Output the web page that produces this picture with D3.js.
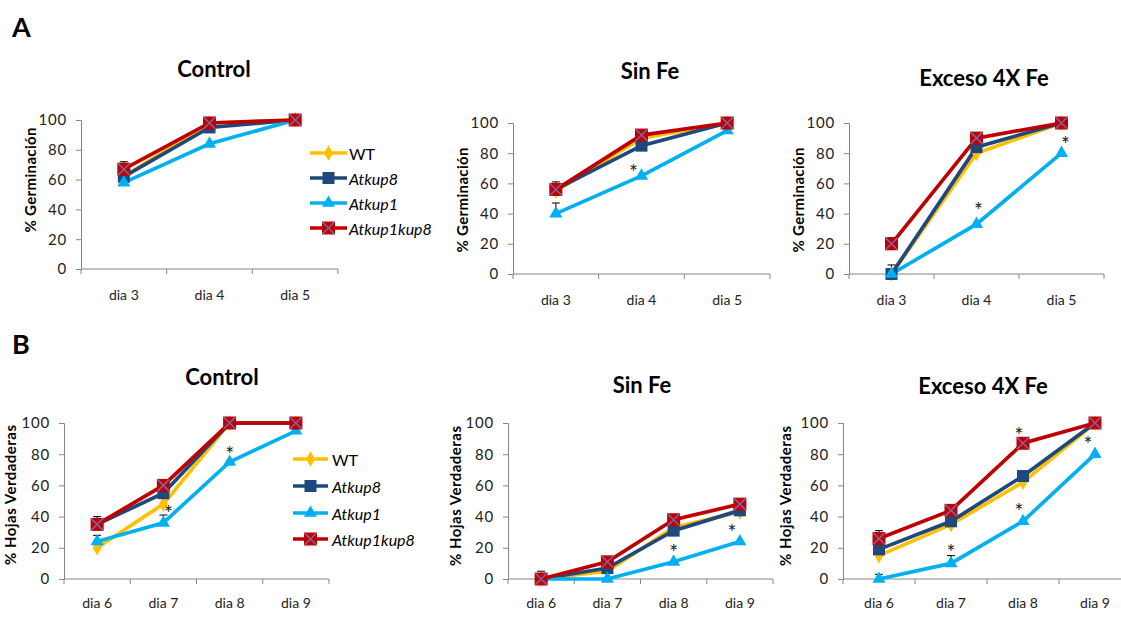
<!DOCTYPE html>
<html><head><meta charset="utf-8">
<script src="https://cdn.jsdelivr.net/npm/d3@7"></script>
<style>body{margin:0;background:#fff}svg{display:block}text{font-family:Lato,"Open Sans",sans-serif}</style>
</head><body>
<svg id="c" width="1121" height="617"></svg>
<script>
// ---------- data ----------
const seriesNames = ["WT", "Atkup8", "Atkup1", "Atkup1kup8"];
const seriesColors = ["#FFC000", "#1F497D", "#00B0F0", "#C00000"];
const germDays = ["dia 3", "dia 4", "dia 5"];
const leafDays = ["dia 6", "dia 7", "dia 8", "dia 9"];
const yTicks = [0, 20, 40, 60, 80, 100];

// rows = series (WT, Atkup8, Atkup1, Atkup1kup8), columns = days
const germControl = [[62, 98, 100], [62, 95, 100], [58, 84, 100], [67, 98, 100]];
const germSinFe   = [[55, 90, 100], [56, 85, 100], [40, 65, 95], [56, 92, 100]];
const germExceso  = [[0, 80, 100], [0, 84, 100], [0, 33, 80], [20, 90, 100]];
const leafControl = [[20, 48, 100, 100], [35, 55, 100, 100], [24, 36, 75, 95], [35, 60, 100, 100]];
const leafSinFe   = [[0, 5, 33, 43], [0, 7, 31, 44], [0, 0, 11, 24], [0, 11, 38, 48]];
const leafExceso  = [[15, 35, 62, 100], [19, 37, 66, 100], [0, 10, 37, 80], [26, 44, 87, 100]];

// positive error bars: [series, day, error]
const errGermControl = [[3, 0, 5], [0, 0, 4]];
const errGermSinFe   = [[2, 0, 7], [3, 0, 5]];
const errGermExceso  = [[1, 0, 6], [3, 0, 4]];
const errLeafControl = [[3, 0, 5], [2, 0, 4], [2, 1, 5]];
const errLeafSinFe   = [[3, 0, 5]];
const errLeafExceso  = [[3, 0, 5], [2, 0, 3], [2, 1, 5]];

// significance asterisks: [day, value, dx]
const starGermControl = [];
const starGermSinFe   = [[1, 70, -8]];
const starGermExceso  = [[1, 45, 2], [2, 89, 4]];
const starLeafControl = [[1, 45, 5], [2, 83, 0]];
const starLeafSinFe   = [[2, 20, 0], [3, 33, -8]];
const starLeafExceso  = [[1, 20, 0], [2, 46, -4], [2, 95, -4], [3, 89, -7]];

const titles = ["Control", "Sin Fe", "Exceso 4X Fe"];
const yLabelGerm = "% Germinación";
const yLabelLeaf = "% Hojas Verdaderas";

// ---------- layout ----------
const panels = [
  {days: germDays, vals: germControl, err: errGermControl, stars: starGermControl, title: titles[0], ylab: yLabelGerm, ylen: 105,
   x0: 81, x1: 338, yT: 120, yB: 269, tx: 214, ty: 68, lx: 30, ly: 180, xl: 300,
   legend: {x0: 310, x1: 347, tx: 349, ys: [153, 178, 203, 228]}},
  {days: germDays, vals: germSinFe, err: errGermSinFe, stars: starGermSinFe, title: titles[1], ylab: yLabelGerm, ylen: 105,
   x0: 513, x1: 770, yT: 123, yB: 274, tx: 650, ty: 70, lx: 462, ly: 200, xl: 305},
  {days: germDays, vals: germExceso, err: errGermExceso, stars: starGermExceso, title: titles[2], ylab: yLabelGerm, ylen: 105,
   x0: 849, x1: 1104, yT: 123, yB: 274, tx: 984, ty: 77, lx: 798, ly: 200, xl: 305},
  {days: leafDays, vals: leafControl, err: errLeafControl, stars: starLeafControl, title: titles[0], ylab: yLabelLeaf, ylen: 140,
   x0: 64, x1: 329, yT: 423, yB: 579, tx: 222, ty: 376, lx: 10, ly: 495, xl: 608,
   legend: {x0: 293, x1: 328, tx: 332, ys: [459, 486, 513, 539]}},
  {days: leafDays, vals: leafSinFe, err: errLeafSinFe, stars: starLeafSinFe, title: titles[1], ylab: yLabelLeaf, ylen: 140,
   x0: 508, x1: 773, yT: 423, yB: 579, tx: 642, ty: 384, lx: 455, ly: 496, xl: 608},
  {days: leafDays, vals: leafExceso, err: errLeafExceso, stars: starLeafExceso, title: titles[2], ylab: yLabelLeaf, ylen: 140,
   x0: 843, x1: 1131, yT: 423, yB: 579, tx: 983, ty: 385, lx: 785, ly: 496, xl: 608}
];

const svg = d3.select("#c");
const axisCol = "#868686", textCol = "#222";

svg.append("text").attr("x", 12).attr("y", 37).attr("font-size", 27).attr("font-weight", "bold").text("A");
svg.append("text").attr("x", 12).attr("y", 354).attr("font-size", 27).attr("font-weight", "bold").text("B");

function marker(g, si, x, y) {
  const c = seriesColors[si];
  if (si === 0) {
    g.append("path").attr("d", d3.symbol(d3.symbolDiamond, 70)()).attr("transform", `translate(${x},${y})`).attr("fill", c);
  } else if (si === 1) {
    g.append("rect").attr("x", x - 6).attr("y", y - 6).attr("width", 12).attr("height", 12).attr("fill", c);
  } else if (si === 2) {
    g.append("path").attr("d", d3.symbol(d3.symbolTriangle, 75)()).attr("transform", `translate(${x},${y})`).attr("fill", c);
  } else {
    g.append("rect").attr("x", x - 6.5).attr("y", y - 6.5).attr("width", 13).attr("height", 13).attr("fill", c);
    g.append("path").attr("d", `M${x-6},${y-6}L${x+6},${y+6}M${x+6},${y-6}L${x-6},${y+6}`)
      .attr("stroke", "#8064A2").attr("stroke-width", 1.5);
  }
}

panels.forEach(p => {
  const g = svg.append("g");
  const x = d3.scaleBand().domain(p.days).range([p.x0, p.x1]);
  const y = d3.scaleLinear().domain([0, 100]).range([p.yB, p.yT]);

  // y axis
  const ya = g.append("g").attr("transform", `translate(${p.x0},0)`)
    .call(d3.axisLeft(y).tickValues(yTicks).tickSize(5).tickPadding(9));
  ya.select(".domain").attr("stroke", axisCol);
  ya.selectAll(".tick line").attr("stroke", axisCol);
  ya.selectAll(".tick text").attr("font-size", 15).attr("letter-spacing", 0.8).attr("fill", textCol).attr("font-family", "Lato");

  // x axis
  const xa = g.append("g").attr("transform", `translate(0,${p.yB})`)
    .call(d3.axisBottom(x).tickSize(0).tickFormat(() => ""));
  xa.select(".domain").attr("stroke", axisCol).attr("d", `M${p.x0},0H${p.x1}`);
  xa.selectAll(".tick").remove();
  const bounds = p.days.map(d => x(d)).concat([p.x1]);
  g.selectAll(null).data(bounds).join("line")
    .attr("x1", d => d).attr("x2", d => d).attr("y1", p.yB).attr("y2", p.yB + 5).attr("stroke", axisCol);
  g.selectAll(null).data(p.days).join("text")
    .attr("x", d => x(d) + x.bandwidth() / 2).attr("y", p.xl).attr("text-anchor", "middle")
    .attr("font-size", 14).attr("fill", textCol).text(d => d);

  // title
  g.append("text").attr("x", p.tx).attr("y", p.ty).attr("text-anchor", "middle").attr("dominant-baseline", "central")
    .attr("font-size", 22).attr("font-weight", "bold").attr("fill", "#000").text(p.title);
  // y label
  g.append("text").attr("transform", `translate(${p.lx},${p.ly}) rotate(-90)`).attr("text-anchor", "middle")
    .attr("dominant-baseline", "central").attr("font-size", 15).attr("font-weight", "bold").attr("fill", "#000")
    .attr("textLength", p.ylen).attr("lengthAdjust", "spacing").text(p.ylab);

  const cx = i => x(p.days[i]) + x.bandwidth() / 2;
  const line = d3.line().x((d, i) => cx(i)).y(d => y(d));

  p.vals.forEach((vals, si) => {
    g.append("path").attr("d", line(vals)).attr("fill", "none").attr("stroke", seriesColors[si]).attr("stroke-width", 3.7);
  });
  // error bars
  p.err.forEach(([si, di, e]) => {
    const v = p.vals[si][di];
    g.append("path").attr("d", `M${cx(di)},${y(v)}V${y(v + e)}M${cx(di) - 4},${y(v + e)}H${cx(di) + 4}`)
      .attr("stroke", "#000").attr("stroke-width", 1).attr("fill", "none");
  });
  p.vals.forEach((vals, si) => vals.forEach((v, i) => marker(g, si, cx(i), y(v))));

  // stars
  p.stars.forEach(([di, v, dx]) => {
    g.append("text").attr("x", cx(di) + dx).attr("y", y(v) + 12).attr("text-anchor", "middle")
      .attr("font-size", 21).attr("fill", textCol).text("*");
  });

  // legend
  if (p.legend) {
    const L = p.legend;
    seriesNames.forEach((name, si) => {
      const yy = L.ys[si];
      g.append("line").attr("x1", L.x0).attr("x2", L.x1).attr("y1", yy).attr("y2", yy)
        .attr("stroke", seriesColors[si]).attr("stroke-width", 3.7);
      marker(g, si, (L.x0 + L.x1) / 2, yy);
      g.append("text").attr("x", L.tx).attr("y", yy).attr("dominant-baseline", "central")
        .attr("font-size", 16).attr("font-style", si === 0 ? "normal" : "italic").attr("fill", "#000").text(name);
    });
  }
});
</script>
</body></html>
